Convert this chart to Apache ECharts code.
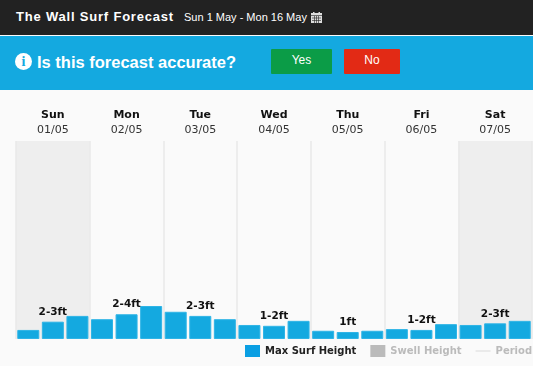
<!DOCTYPE html>
<html lang="en">
<head>
<meta charset="UTF-8">
<title>The Wall Surf Forecast</title>
<script src="https://cdn.jsdelivr.net/npm/echarts@6/dist/echarts.min.js"></script>
<style>
    html, body { margin: 0; padding: 0; width: 533px; height: 366px; overflow: hidden; background: #fafafa; font-family: "Liberation Sans", Arial, sans-serif; }
    #top { position: absolute; left: 0; top: 0; width: 533px; height: 35px; background: #222; color: #fff; }
    #title { position: absolute; left: 16px; top: 9px; font-size: 13px; font-weight: bold; letter-spacing: 0.8px; white-space: nowrap; }
    #range { position: absolute; left: 184px; top: 11px; font-size: 11px; white-space: nowrap; }
    #cal { position: absolute; left: 311px; top: 12px; }
    #ask { position: absolute; left: 0; top: 36px; width: 533px; height: 54px; background: #14a9e0; color: #fff; }
    #info { position: absolute; left: 15px; top: 17px; width: 17px; height: 17px; border-radius: 50%; background: #fff; color: #14a9e0; font: bold 14px/17px "Liberation Serif", serif; text-align: center; }
    #q { position: absolute; left: 37px; top: 17px; font-size: 16.5px; font-weight: bold; white-space: nowrap; }
    .btn { position: absolute; top: 13px; height: 25px; line-height: 23px; font-size: 12px; text-align: center; border-radius: 1px; }
    #yes { left: 271px; width: 61px; background: #0b9c47; }
    #no { left: 344px; width: 56px; background: #e22a15; }
    #chart { position: absolute; left: 0; top: 90px; width: 533px; height: 276px; }
</style>
</head>
<body>
<div id="top">
    <div id="title">The Wall Surf Forecast</div>
    <div id="range">Sun 1 May - Mon 16 May</div>
    <svg id="cal" width="11" height="11" viewBox="0 0 11 11">
        <rect x="0" y="1" width="11" height="10" fill="#ddd"/>
        <rect x="2" y="0" width="1.5" height="2" fill="#ddd"/>
        <rect x="7.5" y="0" width="1.5" height="2" fill="#ddd"/>
        <path d="M0 3.5H11M1 6H10M1 8.500H10M3.500 4V11M5.500 4V11M7.500 4V11" stroke="#222" stroke-width="0.6"/>
    </svg>
</div>
<div id="ask">
    <div id="info">i</div>
    <div id="q">Is this forecast accurate?</div>
    <div class="btn" id="yes">Yes</div>
    <div class="btn" id="no">No</div>
</div>
<div id="chart"></div>

<script>
    const days = ['Sun', 'Mon', 'Tue', 'Wed', 'Thu', 'Fri', 'Sat'];
    const dates = ['01/05', '02/05', '03/05', '04/05', '05/05', '06/05', '07/05'];
    const slots = ['01am', '01pm', '01eve', '02am', '02pm', '02eve', '03am', '03pm', '03eve', '04am', '04pm', '04eve',
                   '05am', '05pm', '05eve', '06am', '06pm', '06eve', '07am', '07pm', '07eve'];
    const maxSurf = [1.1, 2.1, 2.8, 2.4, 3.0, 4.0, 3.3, 2.8, 2.4, 1.7, 1.6, 2.2, 1.0, 0.85, 1.0, 1.2, 1.1, 1.8, 1.7, 1.9, 2.2];
    const ranges = ['2-3ft', '2-4ft', '2-3ft', '1-2ft', '1ft', '1-2ft', '2-3ft'];

    const myChart = echarts.init(document.getElementById('chart'));
    const font = '"DejaVu Sans", sans-serif';

    myChart.setOption({
        animation: false,
        backgroundColor: '#fafafa',
        grid: { left: 16, right: 1, top: 51, height: 198 },
        legend: {
            left: 240, top: 250, width: 320, itemGap: 14, itemWidth: 15, itemHeight: 12,
            data: [
                { name: 'Max Surf Height', icon: 'rect', itemStyle: { color: '#0a9fe3', borderWidth: 0 } },
                { name: 'Swell Height', icon: 'rect', itemStyle: { borderWidth: 0 } },
                { name: 'Period', icon: 'path://M0 5H30V6H0Z' }
            ],
            selected: { 'Swell Height': false, 'Period': false },
            inactiveColor: '#bbb',
            textStyle: { fontFamily: font, fontSize: 10, fontWeight: 'bold', color: '#222' }
        },
        xAxis: [
            { type: 'category', data: slots, show: false },
            {
                type: 'category', position: 'top', data: days,
                axisLine: { show: false },
                axisTick: { show: false },
                axisLabel: {
                    margin: 3,
                    formatter: (v, i) => '{d|' + v + '}\n{t|' + dates[i] + '}',
                    rich: {
                        d: { fontFamily: font, fontSize: 11, fontWeight: 'bold', color: '#111', lineHeight: 15 },
                        t: { fontFamily: font, fontSize: 11, color: '#333', lineHeight: 15 }
                    }
                },
                splitLine: { show: true, lineStyle: { color: '#e8e8e8', width: 1.5 } },
                splitArea: { show: true, areaStyle: { color: ['#eeeeee', '#fafafa', '#fafafa', '#fafafa', '#fafafa', '#fafafa', '#eeeeee'] } }
            }
        ],
        yAxis: { type: 'value', min: 0, max: 24, show: false },
        series: [
            {
                name: 'Max Surf Height', type: 'bar', xAxisIndex: 0, barWidth: 22,
                itemStyle: { color: '#14a9e0', borderColor: '#2fb4e6', borderWidth: 1 },
                data: maxSurf.map((v, i) => i % 3 === 1
                    ? { value: v, label: { show: true, position: 'top', distance: 4, formatter: ranges[(i - 1) / 3],
                        fontFamily: font, fontSize: 10.5, fontWeight: 'bold', color: '#111' } }
                    : v)
            },
            { name: 'Swell Height', type: 'bar', xAxisIndex: 0, itemStyle: { color: '#bbb' }, data: [] },
            { name: 'Period', type: 'line', xAxisIndex: 0, itemStyle: { color: '#bbb' }, data: [] }
        ]
    });
</script>
</body>
</html>
